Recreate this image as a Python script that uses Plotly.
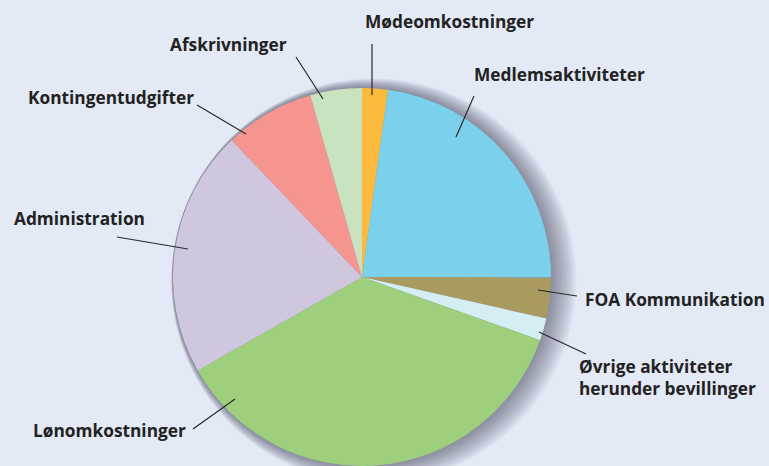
import plotly.graph_objects as go

W, H = 769, 466

labels = ["Mødeomkostninger", "Medlemsaktiviteter", "FOA Kommunikation",
          "Øvrige aktiviteter herunder bevillinger", "Lønomkostninger",
          "Administration", "Kontingentudgifter", "Afskrivninger"]
values = [2.2, 22.8, 3.5, 1.9, 36.3, 21.1, 7.7, 4.4]
colors = ["#FDBB3E", "#7BD1EC", "#A99B5F", "#D5EEF4", "#9ECF7D",
          "#D0C6DE", "#F5958F", "#C9E2C0"]

# label text, text anchor position (px), leader line (px)
label_text = ["Mødeomkostninger", "Medlemsaktiviteter", "FOA Kommunikation",
              "Øvrige aktiviteter<br>herunder bevillinger", "Lønomkostninger",
              "Administration", "Kontingentudgifter", "Afskrivninger"]
label_pos = [(449, 22, "center"), (472, 74, "left"), (767, 299, "right"),
             (577, 377, "left"), (31, 430, "left"), (12, 218, "left"),
             (26, 97, "left"), (168, 45, "left")]
leader = [((372, 44), (372, 95)), ((474, 96), (456, 137)), ((577, 296), (538, 290)),
          ((586, 354), (539, 332)), ((193, 429), (235, 399)), ((117, 237), (188, 249)),
          ((197, 105), (246, 134)), ((296, 57), (323, 99))]

cx, cy, r = 362, 277, 189

def px(x):
    return x / W

def py(y):
    return 1 - y / H

fig = go.Figure(go.Pie(
    labels=labels, values=values, sort=False, direction="clockwise", rotation=0,
    marker=dict(colors=colors, line=dict(width=0)), textinfo="none",
    showlegend=False, hoverinfo="label+percent",
    domain=dict(x=[px(cx - r), px(cx + r)], y=[py(cy + r), py(cy - r)]),
))

shapes = []
# soft shadow, mostly on the right side of the pie
for i in range(14):
    rr = r + 0.5 + i * 1.0
    ox, oy = 0.9 * i, 0.3 * i
    shapes.append(dict(type="circle", xref="paper", yref="paper", layer="below",
                       x0=px(cx + ox - rr), x1=px(cx + ox + rr),
                       y0=py(cy + oy + rr), y1=py(cy + oy - rr),
                       fillcolor="rgba(40,45,60,0.045)", line=dict(width=0)))
for (a, b) in leader:
    shapes.append(dict(type="line", xref="paper", yref="paper",
                       x0=px(a[0]), y0=py(a[1]), x1=px(b[0]), y1=py(b[1]),
                       line=dict(color="#2a2a2a", width=1.2)))

annotations = []
for t, (x, y, al) in zip(label_text, label_pos):
    annotations.append(dict(text=t, x=px(x), y=py(y), xref="paper", yref="paper",
                            xanchor=al, yanchor="middle", align="left", showarrow=False,
                            font=dict(family="Open Sans", size=17.3, color="#222222", weight="bold")))

fig.update_layout(width=W, height=H, margin=dict(l=0, r=0, t=0, b=0),
                  paper_bgcolor="#E3E9F5", plot_bgcolor="#E3E9F5",
                  shapes=shapes, annotations=annotations)

fig.write_html("out.html", config={"displayModeBar": False},
               post_script="document.body.style.margin='0';")
